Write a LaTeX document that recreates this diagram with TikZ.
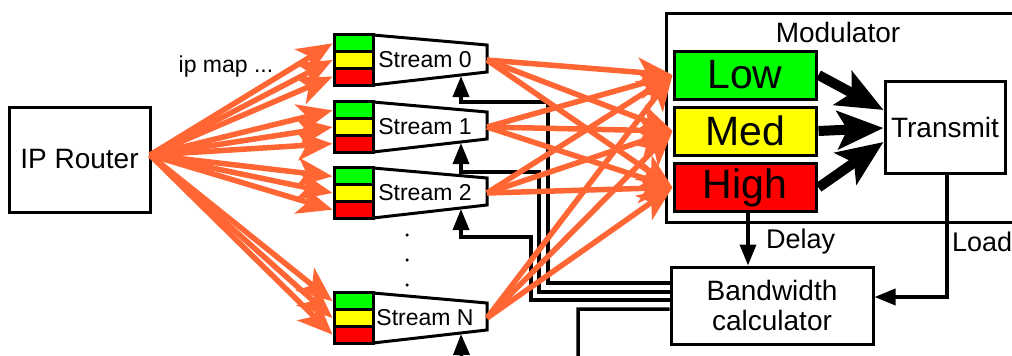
\documentclass[tikz,border=0pt]{standalone}
\usepackage{fontspec}
\setmainfont{Liberation Sans}
\usetikzlibrary{arrows.meta}
\definecolor{og}{RGB}{255,102,51}
\definecolor{gr}{RGB}{0,255,0}
\definecolor{yl}{RGB}{255,255,0}
\definecolor{rd}{RGB}{255,0,0}
\begin{document}
\begin{tikzpicture}[x=1pt,y=-1pt,
  box/.style={draw=black, line width=3pt, inner sep=0pt},
  cbox/.style={draw=black, line width=3pt, inner sep=0pt, minimum width=39pt, minimum height=16.67pt},
  lvl/.style={draw=black, line width=3pt, inner sep=0pt, minimum width=142pt, minimum height=48pt, font=\fontsize{41}{44}\selectfont},
  oarr/.style={draw=og, line width=5.5pt, -{Stealth[length=35pt,width=29pt,inset=9pt]}},
  karr/.style={draw=black, line width=10pt, -{Stealth[length=46pt,width=38pt,inset=10pt]}},
  barr/.style={draw=black, line width=3.5pt, line join=miter, -{Triangle[length=21pt,width=16pt]}},
  lbl/.style={font=\fontsize{23}{26}\selectfont, inner sep=0pt},
  big/.style={font=\fontsize{28}{32}\selectfont, inner sep=0pt},
  dotn/.style={circle, fill=black, inner sep=0pt, minimum size=3.5pt}]
\useasboundingbox (0,0) rectangle (1012,356);
\clip (0,0) rectangle (1012,356);

% Modulator
\node[box, minimum width=364pt, minimum height=209pt] (mod) at (848,117.5) {};
\node[big] (modlbl) at (838,32) {Modulator};
\node[lvl, fill=gr] (low) at (745,75) {Low};
\node[lvl, fill=yl] (med) at (745,131) {Med};
\node[lvl, fill=rd] (high) at (745,187.5) {High};
\node[box, big, minimum width=120pt, minimum height=92pt] (tx) at (945,127) {Transmit};

% Bandwidth calculator
\node[box, minimum width=202pt, minimum height=77pt, font=\fontsize{28}{30}\selectfont, align=center] (bw) at (772,305.5) {Bandwidth\\calculator};

% IP router
\node[box, big, minimum width=141pt, minimum height=105pt] (router) at (79.5,159.5) {IP Router};
\coordinate (rt) at (150,155);
\node[lbl] (ipmap) at (226,67) {ip map ...};

% Streams
\foreach \k/\T in {0/35,1/102,2/168,N/293}{
  \draw[line width=3pt, line join=miter, fill=white] (373,\T) -- (487,\T+10) -- (487,\T+37) -- (373,\T+50) -- cycle;
  \node[cbox, fill=gr] (s\k g) at (353.5,\T+8.33) {};
  \node[cbox, fill=yl] (s\k y) at (353.5,\T+25) {};
  \node[cbox, fill=rd] (s\k r) at (353.5,\T+41.67) {};
  \node[lbl] (s\k t) at (425,\T+25) {Stream \k};
  \coordinate (s\k o) at (487,\T+25);
  \coordinate (s\k b) at (461,\T+41);
}
\node[dotn] (d1) at (407,235) {};
\node[dotn] (d2) at (407,260) {};
\node[dotn] (d3) at (407,285) {};

% feedback lines
\draw[barr] ([yshift=22.5pt]bw.west) -- (548,283) -- (548,102) -- (461,102) -- (s0b);
\draw[barr] ([yshift=13.5pt]bw.west) -- (539,292) -- (539,172) -- (461,172) -- (s1b);
\draw[barr] ([yshift=5.5pt]bw.west) -- (531,300) -- (531,237) -- (461,237) -- (s2b);
\draw[barr] ([yshift=-3.5pt]bw.west) -- (578,309) -- (578,380) -- (462,380) -- (sNb);

% Delay and Load
\draw[barr] ([xshift=3pt]high.south) -- ([xshift=-24pt]bw.north);
\node[font=\fontsize{27}{30}\selectfont, inner sep=0pt, anchor=west] (delay) at (766,242) {Delay};
\draw[barr] ([xshift=2pt]tx.south) -- (947,297) -- ([yshift=8.5pt]bw.east);
\node[font=\fontsize{27}{30}\selectfont, inner sep=0pt, anchor=west] (load) at (952,242) {Load};

% modulator arrows
\draw[karr] ([xshift=1pt]low.east) -- ([yshift=17pt]tx.west);
\draw[karr] ([xshift=1pt]med.east) -- ([yshift=-1pt]tx.west);
\draw[karr] ([xshift=1pt]high.east) -- ([yshift=-15pt]tx.west);

% orange arrows
\foreach \k in {0,1,2,N}{
  \foreach \c in {g,y,r}{
    \draw[oarr] (rt) -- (s\k\c.west);
  }
  \foreach \m in {low,med,high}{
    \draw[oarr] (s\k o) -- (\m.west);
  }
}
\end{tikzpicture}
\end{document}
